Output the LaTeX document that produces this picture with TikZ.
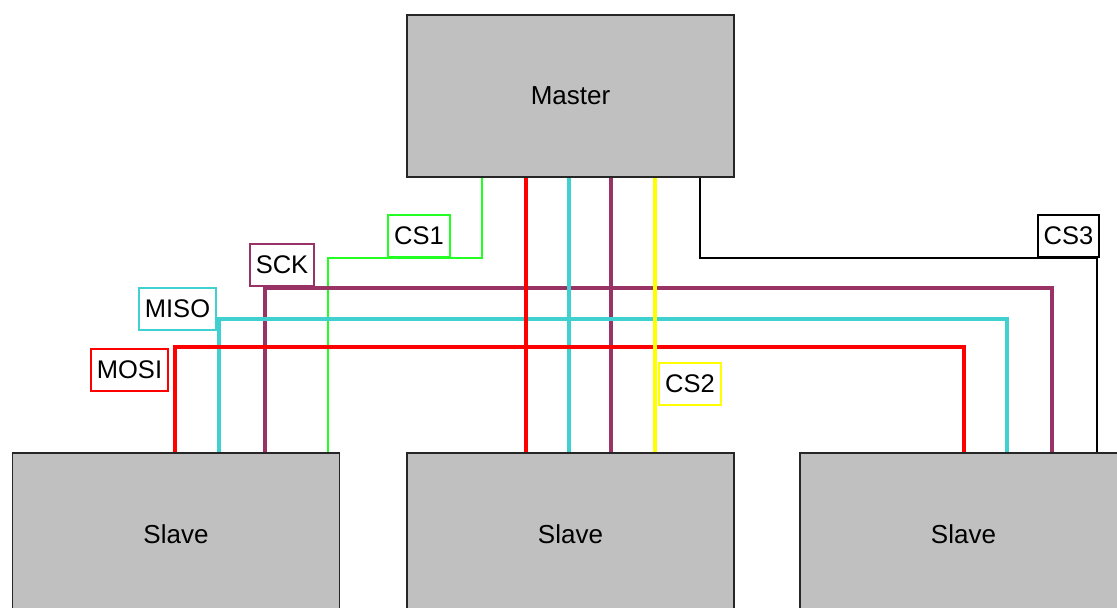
\documentclass[tikz,border=0pt]{standalone}
\usepackage{fontspec}
\setmainfont{Liberation Sans}
\definecolor{cmaster}{HTML}{C0C0C0}
\definecolor{cred}{HTML}{FF0000}
\definecolor{ccyan}{HTML}{40D0D0}
\definecolor{cpurple}{HTML}{993366}
\definecolor{cyellow}{HTML}{FFFF00}
\definecolor{cgreen}{HTML}{22FF22}
\tikzset{
  unitbox/.style={draw=black!85, line width=1.6pt, fill=cmaster, minimum width=327pt, minimum height=162pt, inner sep=0pt, text depth=0pt, font=\fontsize{26}{30}\selectfont},
  sig/.style={draw=#1, line width=2pt, fill=white, inner xsep=6pt, inner ysep=0pt, minimum height=42pt, font=\fontsize{25.5}{29}\selectfont},
  thickwire/.style={draw=#1, line width=4pt},
  thinwire/.style={draw=#1, line width=2pt},
}
\begin{document}
\begin{tikzpicture}[x=1pt,y=-1pt]
\useasboundingbox (0,0) rectangle (1117,608);
\begin{scope}
\clip (0,0) rectangle (1117,608);
\node[unitbox] (master) at (570.5,96) {Master};
\node[unitbox] (slave1) at (176,534) {Slave};
\node[unitbox] (slave2) at (570.5,534) {Slave};
\node[unitbox] (slave3) at (963.5,534) {Slave};
% master pins
\coordinate (mg) at ([xshift=76pt]master.south west);
\coordinate (mr) at ([xshift=120pt]master.south west);
\coordinate (mc) at ([xshift=163pt]master.south west);
\coordinate (mp) at ([xshift=205pt]master.south west);
\coordinate (my) at ([xshift=249pt]master.south west);
\coordinate (mk) at ([xshift=294pt]master.south west);
% slave2 pins
\coordinate (br) at ([xshift=120pt]slave2.north west);
\coordinate (bc) at ([xshift=163pt]slave2.north west);
\coordinate (bp) at ([xshift=205pt]slave2.north west);
\coordinate (by) at ([xshift=249pt]slave2.north west);
% slave1 pins
\coordinate (ar) at ([xshift=163pt]slave1.north west);
\coordinate (ac) at ([xshift=207pt]slave1.north west);
\coordinate (ap) at ([xshift=253pt]slave1.north west);
\coordinate (ag) at ([xshift=316pt]slave1.north west);
% slave3 pins
\coordinate (cr) at ([xshift=165pt]slave3.north west);
\coordinate (cc) at ([xshift=208pt]slave3.north west);
\coordinate (cp) at ([xshift=253pt]slave3.north west);
\coordinate (ck) at ([xshift=298pt]slave3.north west);
% labels
\node[sig=cgreen] (cs1) at (419,236) {CS1};
\node[sig=black] (cs3) at (1068.5,236) {CS3};
\node[sig=cpurple] (sck) at (282,264.5) {SCK};
\node[sig=ccyan] (miso) at (177.5,309) {MISO};
\node[sig=cred] (mosi) at (129.5,370) {MOSI};
\node[sig=cyellow] (cs2) at (690,383.5) {CS2};
% wires
\draw[thinwire=black] (mk) |- (cs3.south) -| (ck);
\draw[thinwire=cgreen] (mg) |- (cs1.south) -| (ag);
\draw[thickwire=cpurple] (mp) -- (bp);
\draw[thickwire=cpurple] (ap) -- ++(0,-164) -| (cp);
\draw[thickwire=ccyan] (mc) -- (bc);
\draw[thickwire=ccyan] (ac) -- ++(0,-133) -| (cc);
\draw[thickwire=cred] (mr) -- (br);
\draw[thickwire=cred] (ar) -- ++(0,-105) -| (cr);
\draw[thickwire=cyellow] (my) -- (by);
% redraw labels on top
\node[sig=cgreen] at (cs1) {CS1};
\node[sig=black] at (cs3) {CS3};
\node[sig=cyellow] at (cs2) {CS2};
\end{scope}
\end{tikzpicture}
\end{document}
